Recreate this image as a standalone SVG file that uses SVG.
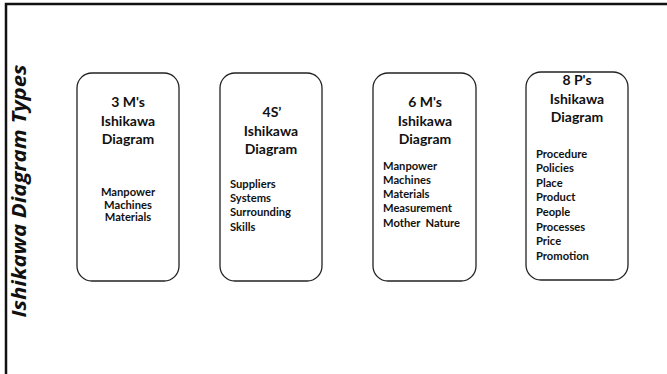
<svg xmlns="http://www.w3.org/2000/svg" width="667" height="374" viewBox="0 0 667 374">
<style>
.box{fill:#fff;stroke:#222;stroke-width:1.3}
.t{font-family:Lato,"Liberation Sans",sans-serif;font-weight:bold;font-size:14px;fill:#111;text-anchor:middle}
.l{font-family:Lato,"Liberation Sans",sans-serif;font-weight:bold;font-size:11.2px;fill:#111}
.c{text-anchor:middle}
.v{font-family:"Open Sans","Liberation Sans",sans-serif;font-weight:bold;font-style:italic;font-size:19px;fill:#111;text-anchor:middle}
</style>
<rect width="667" height="374" fill="#fff"/>
<path d="M6,374 V4 H667" fill="none" stroke="#111" stroke-width="2.5"/>
<text class="v" transform="translate(26,191) rotate(-90)" textLength="253" lengthAdjust="spacingAndGlyphs">Ishikawa Diagram Types</text>
<g id="n1">
<rect class="box" x="77" y="73" width="102" height="208" rx="15"/>
<text class="t" x="128" y="107">3 M's</text>
<text class="t" x="128" y="126">Ishikawa</text>
<text class="t" x="128" y="144">Diagram</text>
<text class="l c" x="128" y="196">Manpower</text>
<text class="l c" x="128" y="208.5">Machines</text>
<text class="l c" x="128" y="221">Materials</text>
</g>
<g id="n2">
<rect class="box" x="220" y="73" width="102" height="208" rx="15"/>
<text class="t" x="272" y="117">4S’</text>
<text class="t" x="271" y="136">Ishikawa</text>
<text class="t" x="271" y="154">Diagram</text>
<text class="l" x="230" y="188">Suppliers</text>
<text class="l" x="230" y="202">Systems</text>
<text class="l" x="230" y="216">Surrounding</text>
<text class="l" x="230" y="231">Skills</text>
</g>
<g id="n3">
<rect class="box" x="373" y="73" width="103" height="208" rx="15"/>
<text class="t" x="425" y="107">6 M's</text>
<text class="t" x="425" y="126">Ishikawa</text>
<text class="t" x="425" y="144">Diagram</text>
<text class="l" x="383" y="170">Manpower</text>
<text class="l" x="383" y="184">Machines</text>
<text class="l" x="383" y="198">Materials</text>
<text class="l" x="383" y="212">Measurement</text>
<text class="l" x="383" y="227" xml:space="preserve">Mother  Nature</text>
</g>
<g id="n4">
<rect class="box" x="526" y="72" width="102" height="208" rx="15"/>
<text class="t" x="577" y="85">8 P's</text>
<text class="t" x="577" y="104">Ishikawa</text>
<text class="t" x="577" y="122">Diagram</text>
<text class="l" x="536" y="158">Procedure</text>
<text class="l" x="536" y="172">Policies</text>
<text class="l" x="536" y="187">Place</text>
<text class="l" x="536" y="201">Product</text>
<text class="l" x="536" y="216">People</text>
<text class="l" x="536" y="231">Processes</text>
<text class="l" x="536" y="245">Price</text>
<text class="l" x="536" y="260">Promotion</text>
</g>
<g id="connectors"/>
</svg>
